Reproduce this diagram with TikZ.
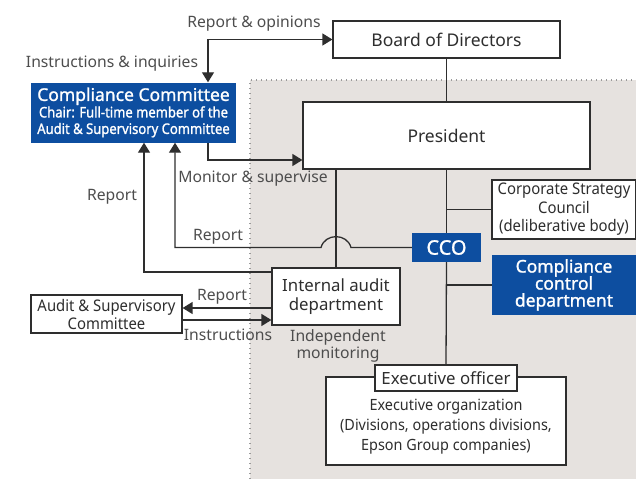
\documentclass[tikz,border=0pt]{standalone}
\usepackage{fontspec}
\setmainfont{Noto Sans}
\newfontfamily\heavy[FakeBold=1.3]{Noto Sans}
\usetikzlibrary{arrows.meta,calc}
\definecolor{ink}{HTML}{2E2E2E}
\definecolor{cblue}{HTML}{0D4EA0}
\definecolor{bggrey}{HTML}{E6E2DF}
\definecolor{dotgrey}{HTML}{9A9A9A}
\tikzset{
  box/.style={draw=ink,line width=1.2pt,fill=white,text=ink,align=center,inner sep=0pt,font=\fontsize{17.5}{20}\selectfont},
  bluebox/.style={fill=cblue,text=white,align=center,inner sep=0pt,font=\fontsize{17.5}{19}\selectfont\heavy},
  lbl/.style={text=ink!85,align=center,inner sep=0pt,font=\fontsize{15.7}{17}\selectfont},
  conn/.style={draw=ink,line width=1.3pt},
  arr/.style={conn,-{Triangle[length=10pt,width=12pt]}},
  dbl/.style={conn,{Triangle[length=10pt,width=12pt]}-{Triangle[length=10pt,width=12pt]}},
}
\begin{document}
\begin{tikzpicture}[x=1pt,y=-1pt]
\useasboundingbox (0,0) rectangle (636,479);
% grey region
\fill[bggrey] (250,80) rectangle (636,479);
\draw[dotgrey,line width=1.3pt,dash pattern=on 1.3pt off 3.7pt] (250,479) -- (250,80) -- (636,80);

% nodes
\node[box,minimum width=227,minimum height=37] (board) at (446.5,39.5) {Board of Directors};
\node[box,minimum width=287,minimum height=67] (pres) at (446.5,135.5) {President};
\node[bluebox,minimum width=205,minimum height=60] (cc) at (133.5,112.5)
  {Compliance Committee\\[-2.5pt]{\fontsize{14.5}{15}\selectfont\scalebox{0.9}[1]{Chair: Full-time member of the}}\\[-2.5pt]{\fontsize{14.5}{15}\selectfont\scalebox{0.9}[1]{Audit \& Supervisory Committee}}};
\node[bluebox,minimum width=69,minimum height=29,font=\fontsize{20}{22}\selectfont\heavy] (cco) at (446.5,247.5) {CCO};
\node[box,minimum width=144,minimum height=59,font=\fontsize{16}{18.5}\selectfont] (csc) at (564,209.5) {\scalebox{0.93}[1]{Corporate Strategy}\\\scalebox{0.93}[1]{Council}\\\scalebox{0.93}[1]{(deliberative body)}};
\node[bluebox,minimum width=144,minimum height=60] (ccd) at (564,285) {Compliance\\[-2pt]control\\[-2pt]department};
\node[box,minimum width=128,minimum height=57,font=\fontsize{16.8}{19}\selectfont] (ia) at (336,296.5) {Internal audit\\department};
\node[box,minimum width=151,minimum height=38,font=\fontsize{16}{18}\selectfont] (asc) at (106.5,314) {\scalebox{0.93}[1]{Audit \& Supervisory}\\\scalebox{0.93}[1]{Committee}};
\node[box,minimum width=240,minimum height=88,font=\fontsize{15.5}{20}\selectfont] (eorg) at (446,421) {\\[3pt]\scalebox{0.93}[1]{Executive organization}\\\scalebox{0.93}[1]{(Divisions, operations divisions,}\\\scalebox{0.93}[1]{Epson Group companies)}};
\node[box,minimum width=142,minimum height=26,font=\fontsize{16.8}{19}\selectfont] (eo) at (446,378) {Executive officer};

% coordinates
\coordinate (ccx) at (208,0);
\coordinate (r1x) at (144,0);
\coordinate (r2x) at (175,0);
\coordinate (ms) at (0,160);
\coordinate (r1y) at (0,272);
\coordinate (ay1) at (0,308);
\coordinate (ay2) at (0,320);
\coordinate (hopR) at (351,247.5);
\coordinate (hopL) at (321,247.5);

% connectors
\draw[conn] (board.south) -- (pres.north);
\draw[conn] (pres.south) -- (cco.north);
\draw[conn] (cco.south) -- (eo.north);
\draw[conn] (csc.west) -- (csc.west -| cco.north);
\draw[conn] (ccd.west) -- (ccd.west -| cco.south);
\draw[conn] (ia.north) -- (ia.north |- pres.south);
\draw[dbl] (cc.north -| ccx) |- (board.west);
\draw[arr] (cc.south -| ccx) |- (pres.west |- ms);
\draw[arr] (ia.west |- r1y) -| (cc.south -| r1x);
\draw[arr] (cco.west) -- (hopR) .. controls (347,233) and (325,233) .. (hopL) -| (cc.south -| r2x);
\draw[arr] (ia.west |- ay1) -- (asc.east |- ay1);
\draw[arr] (asc.east |- ay2) -- (ia.west |- ay2);

% labels
\node[lbl] (l1) at (254,24) {Report \& opinions};
\node[lbl] (l2) at (112,64) {Instructions \& inquiries};
\node[lbl] (l3) at (253,179) {Monitor \& supervise};
\node[lbl] (l4) at (112,197) {Report};
\node[lbl] (l5) at (218,237) {Report};
\node[lbl] (l6) at (222,297) {Report};
\node[lbl] (l7) at (228,335) {Instructions};
\node[lbl] (l8) at (338,346) {Independent\\monitoring};
\end{tikzpicture}
\end{document}
